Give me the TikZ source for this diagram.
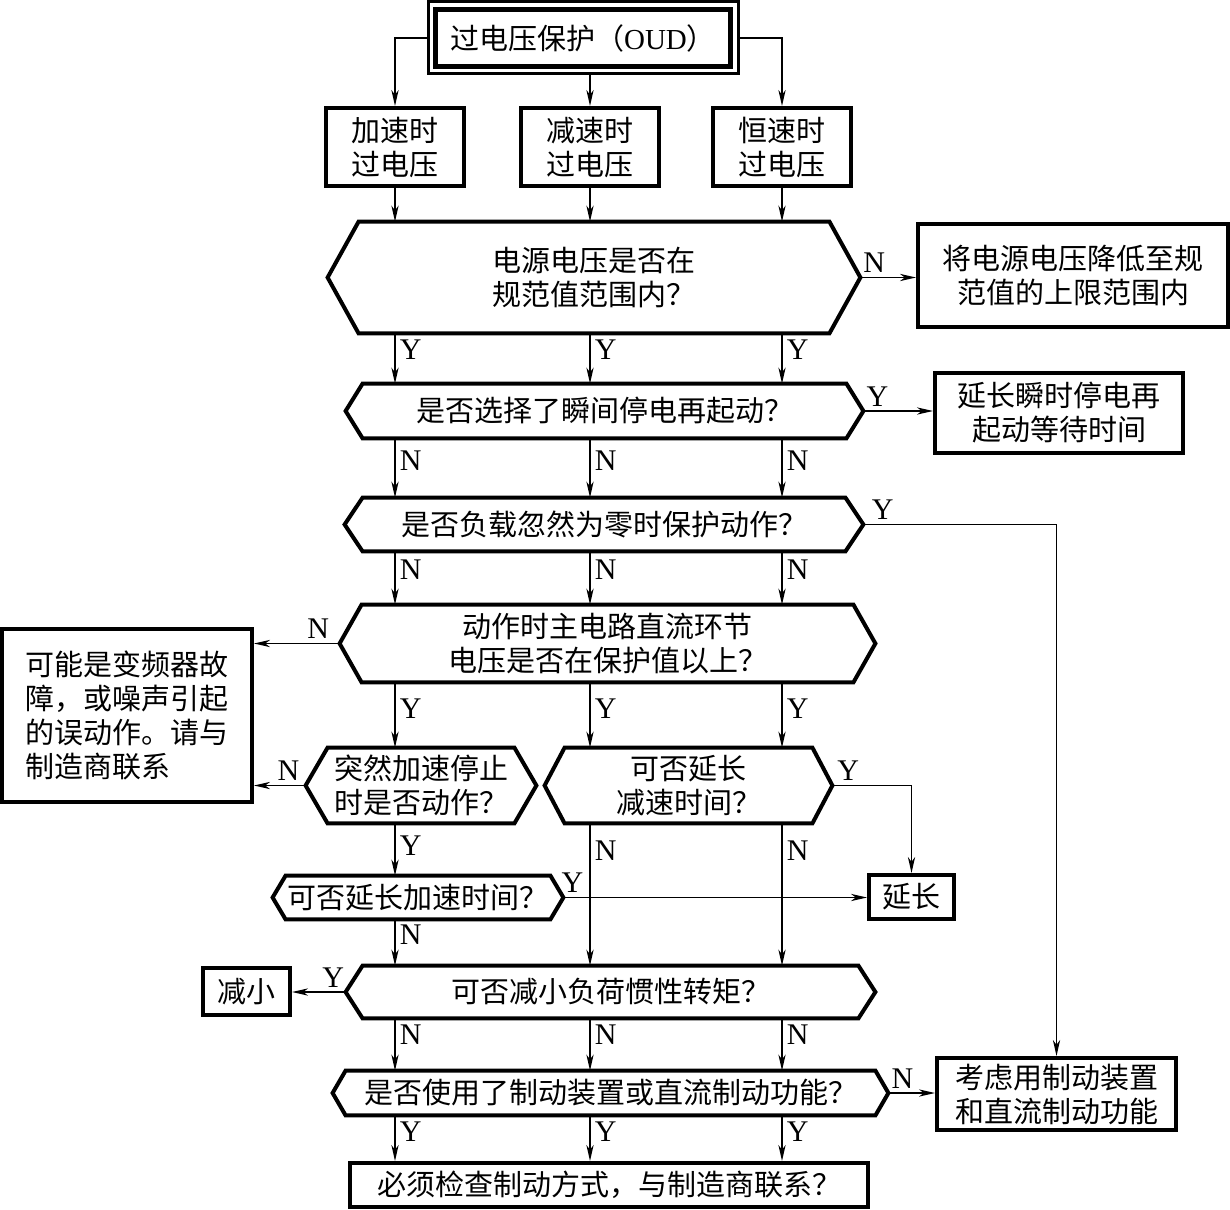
\documentclass[tikz,border=0pt]{standalone}
\usepackage{fontspec}
\setmainfont{Liberation Serif}
\newfontfamily\cjk{Noto Sans CJK SC}
\usetikzlibrary{arrows.meta,calc}
\def\hexframe(#1)(#2){\draw[hexline] (#1.west) -- ([xshift=#2]#1.north west) -- ([xshift=-#2]#1.north east) -- (#1.east) -- ([xshift=-#2]#1.south east) -- ([xshift=#2]#1.south west) -- cycle;}

\tikzset{
	txt/.style={font=\cjk\fontsize{14.5}{17}\selectfont, align=center, inner sep=0pt},
	box/.style={txt, draw, line width=2pt},
	decision/.style={txt},
	hexline/.style={line width=2pt, line join=miter},
	arr/.style={line width=0.75pt, -{Stealth[length=8pt,width=3.6pt,inset=2.4pt]}},
	lab/.style={font=\fontsize{15}{15}\selectfont, inner sep=2pt},
}

\begin{document}
\begin{tikzpicture}[x=0.5pt, y=-0.5pt]
			%%%%% START %%%%%
			\useasboundingbox (0,0) rectangle (1230,1209);
			
			\node[txt, draw, line width=1.5pt, minimum width=155pt, minimum height=36pt] (top) at (583,38) {过电压保护（{\rmfamily OUD}）};
			\draw[line width=2.5pt] ([shift={(9,9)}]top.north west) rectangle ([shift={(-9,-9)}]top.south east);
			
			\node[box, minimum width=69pt, minimum height=39pt] (a1) at (395,147) {加速时\\过电压};
			\node[box, minimum width=69pt, minimum height=39pt] (a2) at (590,147) {减速时\\过电压};
			\node[box, minimum width=69pt, minimum height=39pt] (a3) at (782,147) {恒速时\\过电压};
			
			\node[decision, minimum width=266pt, minimum height=55.5pt] (d1) at (594,277.5) {电源电压是否在\\规范值范围内？};
			\hexframe(d1)(15.5pt)
			\node[box, minimum width=155pt, minimum height=51.5pt] (r1) at (1073,275.5) {将电源电压降低至规\\范值的上限范围内};
			
			\node[decision, minimum width=258.5pt, minimum height=27pt] (d2) at (604.5,411) {是否选择了瞬间停电再起动？};
			\hexframe(d2)(8.5pt)
			\node[box, minimum width=124pt, minimum height=40pt] (r2) at (1059,413) {延长瞬时停电再\\起动等待时间};
			
			\node[decision, minimum width=259pt, minimum height=26.5pt] (d3) at (604,524.5) {是否负载忽然为零时保护动作？};
			\hexframe(d3)(9pt)
			
			\node[decision, minimum width=267.5pt, minimum height=38.5pt] (d4) at (607.5,643.5) {动作时主电路直流环节\\电压是否在保护值以上？};
			\hexframe(d4)(11pt)
			\node[box, align=left, minimum width=125pt, minimum height=86.5pt] (r4) at (127,715.5) {可能是变频器故\\障，或噪声引起\\的误动作。请与\\制造商联系\phantom{请与}};
			
			\node[decision, minimum width=115pt, minimum height=37.5pt] (d5) at (421,785.5) {突然加速停止\\时是否动作？};
			\hexframe(d5)(11pt)
			\node[decision, minimum width=143.5pt, minimum height=37.5pt] (d6) at (688.5,785.5) {可否延长\\减速时间？};
			\hexframe(d6)(10pt)
			
			\node[decision, minimum width=145pt, minimum height=21.5pt] (d7) at (418,897.5) {可否延长加速时间？};
			\hexframe(d7)(6.5pt)
			\node[box, minimum width=42.5pt, minimum height=22pt] (r7) at (911.5,897) {延长};
			
			\node[decision, minimum width=264.5pt, minimum height=26pt] (d8) at (610.5,992) {可否减小负荷惯性转矩？};
			\hexframe(d8)(8.5pt)
			\node[box, minimum width=43.5pt, minimum height=23.5pt] (r8) at (246.5,991.5) {减小};
			
			\node[decision, minimum width=277.5pt, minimum height=22pt] (d9) at (610.5,1093) {是否使用了制动装置或直流制动功能？};
			\hexframe(d9)(6.5pt)
			\node[box, minimum width=119.5pt, minimum height=36pt] (r9) at (1056.5,1094) {考虑用制动装置\\和直流制动功能};
			
			\node[box, minimum width=259pt, minimum height=22pt] (fin) at (609,1185) {必须检查制动方式，与制造商联系？};
			
			% connectors
			\draw[arr] (top.west) -| (a1.north);
			\draw[arr] (top.south -| a2) -- (a2.north);
			\draw[arr] (top.east) -| (a3.north);
			\foreach \c in {a1,a2,a3}
				\draw[arr] (\c.south) -- (d1.north -| \c);
			
			\draw[arr] (d1.east) -- node[lab, above, pos=0.25] {N} (r1.west |- d1.east);
			\foreach \c in {a1,a2,a3}
				\draw[arr] (d1.south -| \c) -- node[lab, right, pos=0.33] {Y} (d2.north -| \c);
			
			\draw[arr] (d2.east) -- node[lab, above, pos=0.2] {Y} (r2.west |- d2.east);
			\foreach \c in {a1,a2,a3}
				\draw[arr] (d2.south -| \c) -- node[lab, right, pos=0.37] {N} (d3.north -| \c);
			
			\draw[arr] (d3.east) -| node[lab, above, pos=0.05] {Y} (r9.north);
			\foreach \c in {a1,a2,a3}
				\draw[arr] (d3.south -| \c) -- node[lab, right, pos=0.35] {N} (d4.north -| \c);
			
			\draw[arr] (d4.west) -- node[lab, above, pos=0.25] {N} (r4.east |- d4.west);
			\draw[arr] (d4.south -| a1) -- node[lab, right, pos=0.4] {Y} (d5.north -| a1);
			\draw[arr] (d4.south -| a2) -- node[lab, right, pos=0.4] {Y} (d6.north -| a2);
			\draw[arr] (d4.south -| a3) -- node[lab, right, pos=0.4] {Y} (d6.north -| a3);
			
			\draw[arr] (d5.west) -- node[lab, above, pos=0.33] {N} (r4.east |- d5.west);
			\draw[arr] (d5.south -| a1) -- node[lab, right, pos=0.42] {Y} (d7.north -| a1);
			\draw[arr] (d6.east) -| node[lab, above, pos=0.1] {Y} (r7.north);
			\draw[arr] (d6.south -| a2) -- node[lab, right, pos=0.19] {N} (d8.north -| a2);
			\draw[arr] (d6.south -| a3) -- node[lab, right, pos=0.19] {N} (d8.north -| a3);
			
			\draw[arr] (d7.east) -- node[lab, above, pos=0.03] {Y} (r7.west |- d7.east);
			\draw[arr] (d7.south -| a1) -- node[lab, right, pos=0.34] {N} (d8.north -| a1);
			
			\draw[arr] (d8.west) -- node[lab, above, pos=0.23] {Y} (r8.east |- d8.west);
			\foreach \c in {a1,a2,a3}
				\draw[arr] (d8.south -| \c) -- node[lab, right, pos=0.32] {N} (d9.north -| \c);
			
			\draw[arr] (d9.east) -- node[lab, above, pos=0.3] {N} (r9.west |- d9.east);
			\foreach \c in {a1,a2,a3}
				\draw[arr] (d9.south -| \c) -- node[lab, right, pos=0.35] {Y} (fin.north -| \c);
			
			%%%%% END %%%%%
\end{tikzpicture}
\end{document}
